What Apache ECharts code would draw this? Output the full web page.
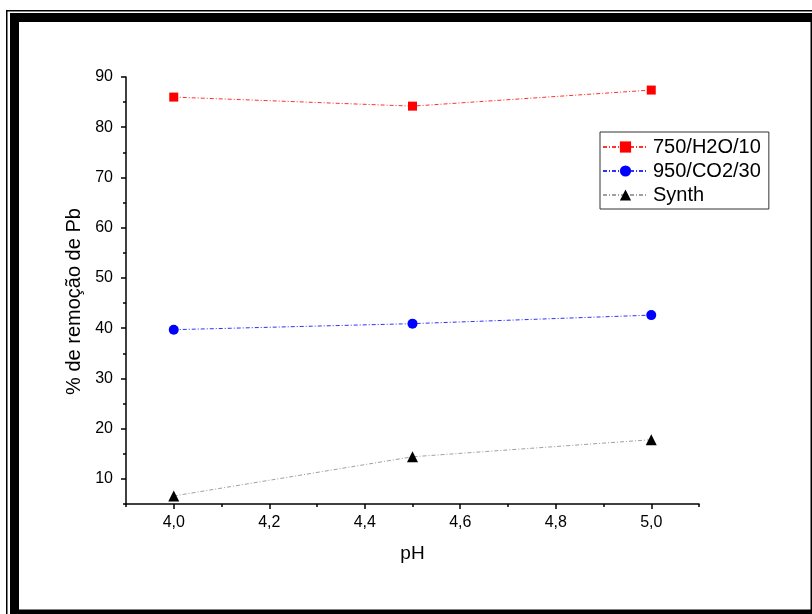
<!DOCTYPE html>
<html>
<head>
<meta charset="utf-8">
<script src="https://cdn.jsdelivr.net/npm/echarts@6/dist/echarts.min.js"></script>
<style>
html,body{margin:0;padding:0;background:#fff;}
#chart{width:812px;height:614px;}
</style>
</head>
<body>
<div id="chart"></div>
<script>
const phValues = [4.0, 4.5, 5.0];
const seriesNames = ['750/H2O/10', '950/CO2/30', 'Synth'];
const red750 = [86.0, 84.2, 87.4];
const blue950 = [39.7, 40.9, 42.6];
const synth = [6.6, 14.4, 17.8];
const xMajorTicks = [4.0, 4.2, 4.4, 4.6, 4.8, 5.0];
const xMinorTicks = [3.9, 4.1, 4.3, 4.5, 4.7, 4.9, 5.1];
const yMajorTicks = [10, 20, 30, 40, 50, 60, 70, 80, 90];
const yMinorTicks = [5, 15, 25, 35, 45, 55, 65, 75, 85];

const chart = echarts.init(document.getElementById('chart'));
const font = 'Liberation Sans, Arial, sans-serif';
const pair = (vals) => phValues.map((x, i) => [x, vals[i]]);
const dashDot = [4, 2, 1, 2];

const xBase = {min: 3.9, max: 5.1, gridIndex: 0, type: 'value', position: 'bottom', splitLine: {show: false}};
const yBase = {min: 5, max: 90, gridIndex: 0, type: 'value', position: 'left', splitLine: {show: false}};

chart.setOption({
  animation: false,
  backgroundColor: '#fff',
  graphic: [
    {type: 'rect', shape: {x: 6, y: 10, width: 1.5, height: 604}, style: {fill: '#000'}},
    {type: 'rect', shape: {x: 6, y: 10, width: 806, height: 1.5}, style: {fill: '#000'}},
    {type: 'rect', shape: {x: 10, y: 13, width: 9, height: 601}, style: {fill: '#000'}},
    {type: 'rect', shape: {x: 10, y: 13, width: 802, height: 9}, style: {fill: '#000'}},
    {type: 'rect', shape: {x: 810.5, y: 13, width: 2, height: 601}, style: {fill: '#000'}},
    {type: 'rect', shape: {x: 10, y: 609.5, width: 802, height: 5}, style: {fill: '#000'}}
  ],
  grid: {left: 126, top: 77, right: 113, bottom: 110, containLabel: false},
  legend: {
    orient: 'vertical',
    left: 600, top: 132,
    data: seriesNames,
    borderColor: '#333', borderWidth: 1,
    padding: [5, 8, 4, 2],
    itemWidth: 45, itemHeight: 14, itemGap: 4,
    textStyle: {fontFamily: font, fontSize: 20, color: '#000'}
  },
  xAxis: [
    Object.assign({}, xBase, {
      name: 'pH', nameLocation: 'middle', nameGap: 40,
      nameTextStyle: {fontFamily: font, fontSize: 19, color: '#000'},
      axisLine: {show: true, onZero: false, lineStyle: {color: '#000', width: 1.5}},
      axisTick: {show: true, length: 5, customValues: xMajorTicks, lineStyle: {color: '#000', width: 1.5}},
      axisLabel: {customValues: xMajorTicks, margin: 11, fontFamily: font, fontSize: 16, color: '#000',
        formatter: v => v.toFixed(1).replace('.', ',')}
    }),
    Object.assign({}, xBase, {
      axisLine: {show: false, onZero: false},
      axisTick: {show: true, length: 3, customValues: xMinorTicks, lineStyle: {color: '#000', width: 1.5}},
      axisLabel: {show: false}
    })
  ],
  yAxis: [
    Object.assign({}, yBase, {
      name: '% de remoção de Pb', nameLocation: 'middle', nameGap: 42,
      nameTextStyle: {fontFamily: font, fontSize: 20, color: '#000', padding: [0, 22, 0, 0]},
      axisLine: {show: true, onZero: false, lineStyle: {color: '#000', width: 1.5}},
      axisTick: {show: true, length: 5, customValues: yMajorTicks, lineStyle: {color: '#000', width: 1.5}},
      axisLabel: {customValues: yMajorTicks, margin: 13, fontFamily: font, fontSize: 16, color: '#000'}
    }),
    Object.assign({}, yBase, {
      axisLine: {show: false, onZero: false},
      axisTick: {show: true, length: 3, customValues: yMinorTicks, lineStyle: {color: '#000', width: 1.5}},
      axisLabel: {show: false}
    })
  ],
  series: [
    {name: seriesNames[0], type: 'line', data: pair(red750), symbol: 'rect', symbolSize: 9,
      itemStyle: {color: '#ff0000'}, lineStyle: {color: '#ff3030', width: 1, type: dashDot}},
    {name: seriesNames[1], type: 'line', data: pair(blue950), symbol: 'circle', symbolSize: 10,
      itemStyle: {color: '#0000ff'}, lineStyle: {color: '#3030ff', width: 1, type: dashDot}},
    {name: seriesNames[2], type: 'line', data: pair(synth), symbol: 'triangle', symbolSize: 11,
      itemStyle: {color: '#000'}, lineStyle: {color: '#a0a0a0', width: 1, type: dashDot}}
  ]
});
</script>
</body>
</html>
